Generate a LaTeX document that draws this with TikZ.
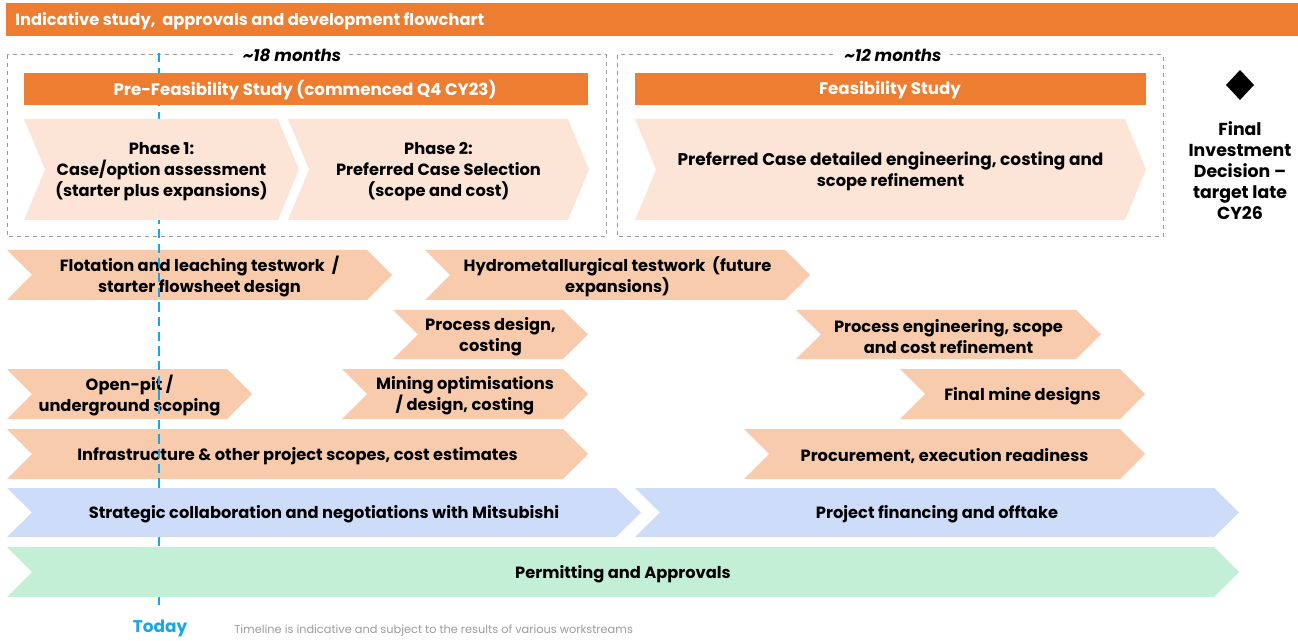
\documentclass[tikz,border=0pt]{standalone}
\usepackage{fontspec}
\setmainfont{Poppins}
\usetikzlibrary{shapes.geometric}
\definecolor{orng}{HTML}{ED7D31}
\definecolor{phasefill}{HTML}{FCE4D6}
\definecolor{rowfill}{HTML}{F8CBAD}
\definecolor{bluefill}{HTML}{CCDCF9}
\definecolor{greenfill}{HTML}{C2EFD5}
\definecolor{todayblue}{HTML}{1AA6E4}
\definecolor{boxgray}{HTML}{9A9A9A}
\definecolor{notegray}{HTML}{9C9C9C}
% fill, x1, x2, y1, y2, depth, name, text
\newcommand{\mychev}[8]{%
  \fill[#1] (#2,#4) -- ({#3-#6},#4) -- (#3,{(#4+#5)/2}) -- ({#3-#6},#5) -- (#2,#5) -- ({#2+#6},{(#4+#5)/2}) -- cycle;
  \node[chevtext] (#7) at ({(#2+#3)/2},{(#4+#5)/2}) {#8};
}
\tikzset{
  chevtext/.style={align=center, inner sep=0pt, text=black, yshift=-1.5pt, font=\fontsize{12.2}{15.75}\selectfont\bfseries},
  barbox/.style={fill=orng, text=white, inner sep=0pt, yshift=-1pt, font=\fontsize{12.5}{14}\selectfont\bfseries},
  dashbox/.style={draw=boxgray, dashed, line width=0.75pt},
  monthlabel/.style={fill=white, inner xsep=6pt, inner ysep=1pt, font=\fontsize{12.5}{14}\selectfont\bfseries\itshape},
}
\begin{document}
\begin{tikzpicture}[x=0.75pt,y=-0.75pt]
\useasboundingbox (0,0) rectangle (1298,641);
% title bar
\fill[orng] (6,3) rectangle (1298,36);
\node[anchor=west, text=white, inner sep=0pt, yshift=-1pt, font=\fontsize{12.2}{14}\selectfont\bfseries] (title) at (15,20) {Indicative study,\ \ approvals and development flowchart};
% dashed boxes
\draw[dashbox] (7,55) rectangle (606,237);
\draw[dashbox] (617,55) rectangle (1163,237);
\node[monthlabel] (m18) at (292,55) {\textasciitilde 18 months};
\node[monthlabel] (m12) at (893,55) {\textasciitilde 12 months};
% peach rows (under today line)
\mychev{rowfill}{7}{392}{250}{300}{25}{flot}{Flotation and leaching testwork\ \ /\\ starter flowsheet design}
\mychev{rowfill}{425}{810}{250}{300}{25}{hydro}{Hydrometallurgical testwork\ \ (future\\ expansions)}
\mychev{rowfill}{393}{588}{310}{359}{25}{procd}{Process design,\\ costing}
\mychev{rowfill}{796}{1101}{310}{359}{25}{proce}{Process engineering, scope\\ and cost refinement}
\mychev{rowfill}{7}{252}{369}{419}{25}{openpit}{Open-pit /\\ underground scoping}
\mychev{rowfill}{342}{588}{369}{419}{25}{minopt}{Mining optimisations\\ / design, costing}
\mychev{rowfill}{900}{1145}{369}{419}{25}{finmine}{Final mine designs}
\mychev{rowfill}{7}{588}{429}{479}{25}{infra}{Infrastructure \& other project scopes, cost estimates}
\mychev{rowfill}{744}{1145}{429}{479}{25}{procure}{Procurement, execution readiness}
% today line
\coordinate (ttop) at (159,53);
\coordinate (tbot) at (159,609);
\draw[todayblue, line width=1.5pt, dash pattern=on 7pt off 4pt] (ttop) -- (tbot);
\node[text=todayblue, inner sep=0pt, font=\fontsize{12.7}{14}\selectfont\bfseries] (today) at (160,628) {Today};
\node[anchor=west, text=notegray, inner sep=0pt, font=\fontsize{8.5}{10}\selectfont] (note) at (234,631) {Timeline is indicative and subject to the results of various workstreams};
% orange header bars
\fill[orng] (24,73) rectangle (588,105);
\node[barbox] (pfs) at (305,89) {Pre-Feasibility Study (commenced Q4 CY23)};
\fill[orng] (635,73) rectangle (1146,105);
\node[barbox] (fs) at (890,89) {Feasibility Study};
% phase chevrons
\mychev{phasefill}{24}{299}{119}{220}{21}{ph1}{Phase 1:\\ Case/option assessment\\ (starter plus expansions)}
\mychev{phasefill}{288}{589}{119}{220}{21}{ph2}{Phase 2:\\ Preferred Case Selection\\ (scope and cost)}
\mychev{phasefill}{635}{1146}{119}{220}{21}{fsd}{\fontsize{12.7}{15.75}\selectfont Preferred Case detailed engineering, costing and\\ scope refinement}
% blue and green rows
\mychev{bluefill}{7}{641}{488}{537}{25}{strat}{Strategic collaboration and negotiations with Mitsubishi}
\mychev{bluefill}{635}{1239}{488}{537}{25}{fin}{Project financing and offtake}
\mychev{greenfill}{7}{1239}{547}{597}{25}{perm}{Permitting and Approvals}
% FID milestone
\fill[black] (1240,70) -- (1254,85) -- (1240,100) -- (1226,85) -- cycle;
\node[chevtext, font=\fontsize{13}{15.75}\selectfont\bfseries] (fid) at (1240,169) {Final\\ Investment\\ Decision --\\ target late\\ CY26};
\end{tikzpicture}
\end{document}
